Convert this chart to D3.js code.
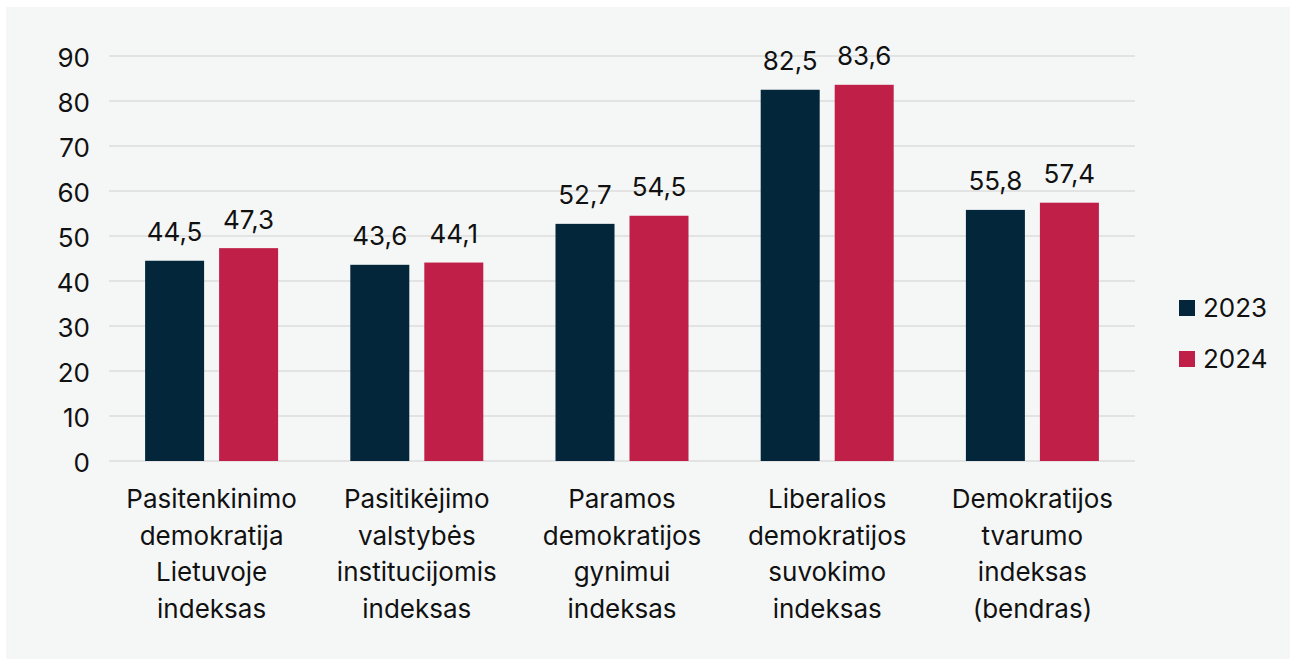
<!DOCTYPE html>
<html><head><meta charset="utf-8">
<script src="https://cdn.jsdelivr.net/npm/d3@7"></script>
<style>
html,body{margin:0;padding:0;background:#fff;}
svg{display:block;font-family:Inter,"Noto Sans",sans-serif;}
</style></head>
<body>
<svg id="c" width="1290" height="659"></svg>
<script>
const categories = [
  ["Pasitenkinimo","demokratija","Lietuvoje","indeksas"],
  ["Pasitikėjimo","valstybės","institucijomis","indeksas"],
  ["Paramos","demokratijos","gynimui","indeksas"],
  ["Liberalios","demokratijos","suvokimo","indeksas"],
  ["Demokratijos","tvarumo","indeksas","(bendras)"]
];
const seriesNames = ["2023","2024"];
const values2023 = [44.5, 43.6, 52.7, 82.5, 55.8];
const values2024 = [47.3, 44.1, 54.5, 83.6, 57.4];
const yTicks = [0,10,20,30,40,50,60,70,80,90];
const colors = ["#03263a","#c01f48"];

(function(){
const FS = 26;
const svg = d3.select("#c");
svg.append("rect").attr("x",6).attr("y",7).attr("width",1290).attr("height",659).attr("fill","#f5f7f7");

const pLeft = 109, pRight = 1135, pTop = 56, pBottom = 461;
const x0 = d3.scaleBand().domain(d3.range(categories.length)).range([pLeft,pRight]).paddingInner(0).paddingOuter(0);
const y = d3.scaleLinear().domain([0,90]).range([pBottom,pTop]);
const barW = 59, gap = 15;

svg.append("g").selectAll("line").data(yTicks).join("line")
  .attr("x1",pLeft).attr("x2",pRight)
  .attr("y1",d=>y(d)).attr("y2",d=>y(d))
  .attr("stroke","#dcdcdc").attr("stroke-width",1.5);

const yAxis = d3.axisLeft(y).tickValues(yTicks).tickSize(0).tickPadding(0).tickFormat(d3.format("d"));
const ya = svg.append("g").attr("transform",`translate(${pLeft-19},0)`).call(yAxis);
ya.select(".domain").remove();
ya.selectAll("text").attr("font-size",FS).attr("fill","#111").attr("font-family","Inter,'Noto Sans',sans-serif").attr("dy","0.4em");

const series = [values2023, values2024];
const fmt = v => d3.format(".1f")(v).replace(".",",");
series.forEach((vals,si)=>{
  const g = svg.append("g");
  const xpos = i => x0(i) + x0.bandwidth()/2 + (si===0 ? -gap/2 - barW : gap/2);
  g.selectAll("rect").data(vals).join("rect")
    .attr("x",(d,i)=>xpos(i)).attr("width",barW)
    .attr("y",d=>y(d)).attr("height",d=>pBottom - y(d))
    .attr("fill",colors[si]);
  g.selectAll("text").data(vals).join("text")
    .attr("x",(d,i)=>xpos(i)+barW/2).attr("y",d=>y(d)-19.5)
    .attr("text-anchor","middle").attr("font-size",FS).attr("fill","#111")
    .text(d=>fmt(d));
});

const cl = svg.append("g");
categories.forEach((lines,i)=>{
  const cx = x0(i)+x0.bandwidth()/2;
  const t = cl.append("text").attr("text-anchor","middle").attr("font-size",FS).attr("fill","#111");
  lines.forEach((ln,j)=>{
    t.append("tspan").attr("x", cx).attr("y", 508 + j*36.7).text(ln);
  });
});

const lg = svg.append("g");
seriesNames.forEach((n,i)=>{
  const cy = 308 + i*51;
  lg.append("rect").attr("x",1179).attr("y",cy-8).attr("width",16).attr("height",16).attr("fill",colors[i]);
  lg.append("text").attr("x",1203).attr("y",cy).attr("dy","0.36em").attr("font-size",FS).attr("fill","#111").text(n);
});
})();
</script>
</body></html>
